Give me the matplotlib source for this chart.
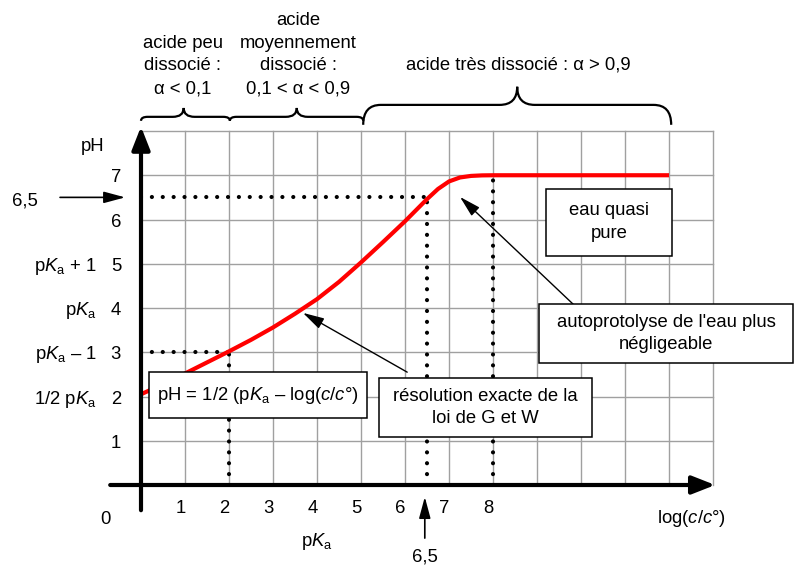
import matplotlib.pyplot as plt
from matplotlib.patches import Rectangle, PathPatch
from matplotlib.path import Path

plt.rcParams['font.family'] = ['Liberation Sans', 'DejaVu Sans']
plt.rcParams['mathtext.fontset'] = 'custom'
plt.rcParams['mathtext.rm'] = 'Liberation Sans'
plt.rcParams['mathtext.it'] = 'Liberation Sans:italic'
plt.rcParams['mathtext.bf'] = 'Liberation Sans:bold'

# pH d'un acide faible (pKa = 4) en fonction de -log(c/c°)
log_c = [0, 0.5, 1, 1.5, 2, 2.5, 3, 3.5, 4, 4.5, 5, 5.5, 6, 6.5, 6.75, 7,
         7.25, 7.5, 7.75, 8, 9, 10, 11, 12]
ph = [2.05, 2.28, 2.52, 2.77, 3.02, 3.28, 3.56, 3.87, 4.2, 4.59, 5.03, 5.49,
      5.96, 6.46, 6.69, 6.86, 6.95, 6.985, 6.997, 7.0, 7.0, 7.0, 7.0, 7.0]

x_ticks = [1, 2, 3, 4, 5, 6, 7, 8]
y_ticks = [1, 2, 3, 4, 5, 6, 7]
pka_labels = {5: r"p$\mathit{K}_\mathrm{a}$ + 1", 4: r"p$\mathit{K}_\mathrm{a}$",
              3: r"p$\mathit{K}_\mathrm{a}$ – 1", 2: r"1/2 p$\mathit{K}_\mathrm{a}$"}

# lignes de rappel en pointillés : (x0, x1, y0, y1)
guides = [(0, 6.5, 6.5, 6.5), (6.5, 6.5, 0, 6.5), (0, 2, 3, 3), (2, 2, 0, 3), (8, 8, 0, 7)]

# domaines de dissociation
domains = ["acide peu\ndissocié :\nα < 0,1",
           "acide\nmoyennement\ndissocié :\n0,1 < α < 0,9",
           "acide très dissocié : α > 0,9"]

FS = 13.3
LS = 1.45
GRID_C = '#a0a0a0'

fig = plt.figure(figsize=(8.03, 5.66), dpi=100)
ax = fig.add_axes([0, 0, 1, 1])
ax.set_xlim((0 - 141) / 44, (803 - 141) / 44)
ax.set_ylim((485 - 566) / 44.25, 485 / 44.25)
ax.axis('off')

# quadrillage
for i in range(1, 14):
    ax.plot([i, i], [0, 8], color=GRID_C, lw=1, zorder=1)
for j in range(1, 9):
    ax.plot([0, 13], [j, j], color=GRID_C, lw=1, zorder=1)

# pointillés
for x0, x1, y0, y1 in guides:
    ax.plot([x0, x1], [y0, y1], color='k', lw=3, linestyle=(0, (0.01, 2.6)),
            dash_capstyle='round', zorder=2)

# courbe
ax.plot(log_c, ph, color='#ff0000', lw=3, solid_capstyle='butt', zorder=3)

# axes avec flèches
ax.annotate("", xy=(0, 8.1), xytext=(0, -0.57),
            arrowprops=dict(arrowstyle='-|>,head_length=1.4,head_width=0.55',
                            mutation_scale=10, lw=3, color='k', shrinkA=0, shrinkB=0),
            zorder=4)
ax.annotate("", xy=(13.05, 0), xytext=(-0.7, 0),
            arrowprops=dict(arrowstyle='-|>,head_length=1.4,head_width=0.55',
                            mutation_scale=10, lw=3, color='k', shrinkA=0, shrinkB=0),
            zorder=4)

# graduations
for t in x_ticks:
    ax.text(t - 0.1, -0.52, str(t), fontsize=FS, ha='center', va='center')
for t in y_ticks:
    ax.text(-0.57, t - 0.06, str(t), fontsize=FS, ha='center', va='center')
    if t in pka_labels:
        ax.text(-1.0, t - 0.06, pka_labels[t], fontsize=FS, ha='right', va='center')
ax.text(-0.8, -0.79, "0", fontsize=FS, ha='center', va='center')
ax.text(-1.1, 7.64, "pH", fontsize=FS, ha='center', va='center')
ax.text(4.0, -1.28, r"p$\mathit{K}_\mathrm{a}$", fontsize=FS, ha='center', va='center')
ax.text(12.52, -0.75, r"log($\mathit{c}$/$\mathit{c}$°)", fontsize=FS, ha='center', va='center')

# repères 6,5
small_arrow = dict(arrowstyle='-|>,head_length=1.3,head_width=0.35', mutation_scale=10,
                   lw=1.2, color='k', shrinkA=0, shrinkB=0)
ax.annotate("", xy=(-0.36, 6.5), xytext=(-1.84, 6.5), arrowprops=small_arrow)
ax.text(-2.64, 6.42, "6,5", fontsize=FS, ha='center', va='center')
ax.annotate("", xy=(6.45, -0.27), xytext=(6.45, -1.2), arrowprops=small_arrow)
ax.text(6.45, -1.63, "6,5", fontsize=FS, ha='center', va='center')


# accolades
def brace(x0, x1, xm, y_end, y_mid, y_tip, r_end, r_tip):
    verts = [(x0, y_end), (x0, y_mid), (x0 + r_end, y_mid),
             (xm - r_tip, y_mid), (xm, y_mid), (xm, y_tip),
             (xm, y_mid), (xm + r_tip, y_mid),
             (x1 - r_end, y_mid), (x1, y_mid), (x1, y_end)]
    codes = [Path.MOVETO, Path.CURVE3, Path.CURVE3, Path.LINETO, Path.CURVE3, Path.CURVE3,
             Path.CURVE3, Path.CURVE3, Path.LINETO, Path.CURVE3, Path.CURVE3]
    ax.add_patch(PathPatch(Path(verts, codes), fill=False, lw=1.6, edgecolor='k', zorder=4))


brace(0, 2.02, 0.97, 8.23, 8.32, 8.52, 0.15, 0.25)
brace(2.02, 5.05, 3.54, 8.23, 8.32, 8.52, 0.15, 0.25)
brace(5.05, 12.05, 8.55, 8.14, 8.59, 9.0, 0.4, 0.4)

ax.text(0.95, 9.47, domains[0], fontsize=FS, ha='center', va='center', linespacing=LS)
ax.text(3.57, 9.73, domains[1], fontsize=FS, ha='center', va='center', linespacing=LS)
ax.text(8.57, 9.49, domains[2], fontsize=FS, ha='center', va='center')


# encadrés
def box(x0, x1, y0, y1, txt):
    ax.add_patch(Rectangle((x0, y0), x1 - x0, y1 - y0, facecolor='white',
                           edgecolor='k', lw=1.1, zorder=5))
    ax.text((x0 + x1) / 2, (y0 + y1) / 2, txt, fontsize=FS, ha='center', va='center',
            linespacing=LS, zorder=6)


box(0.18, 5.14, 1.51, 2.55, r"pH = 1/2 (p$\mathit{K}_\mathrm{a}$ – log($\mathit{c}$/$\mathit{c}$°)")
box(5.41, 10.25, 1.08, 2.42, "résolution exacte de la\nloi de G et W")
box(9.2, 12.07, 5.18, 6.69, "eau quasi\npure")
box(9.05, 14.82, 2.76, 4.09, "autoprotolyse de l'eau plus\nnégligeable")

thin_arrow = dict(arrowstyle='-|>,head_length=1.3,head_width=0.35', mutation_scale=10,
                  lw=1.0, color='k', shrinkA=0, shrinkB=0)
ax.annotate("", xy=(7.25, 6.51), xytext=(9.86, 4.05), arrowprops=thin_arrow, zorder=4)
ax.annotate("", xy=(3.68, 3.89), xytext=(6.05, 2.55), arrowprops=thin_arrow, zorder=4)

fig.savefig('out.png', dpi=100)
